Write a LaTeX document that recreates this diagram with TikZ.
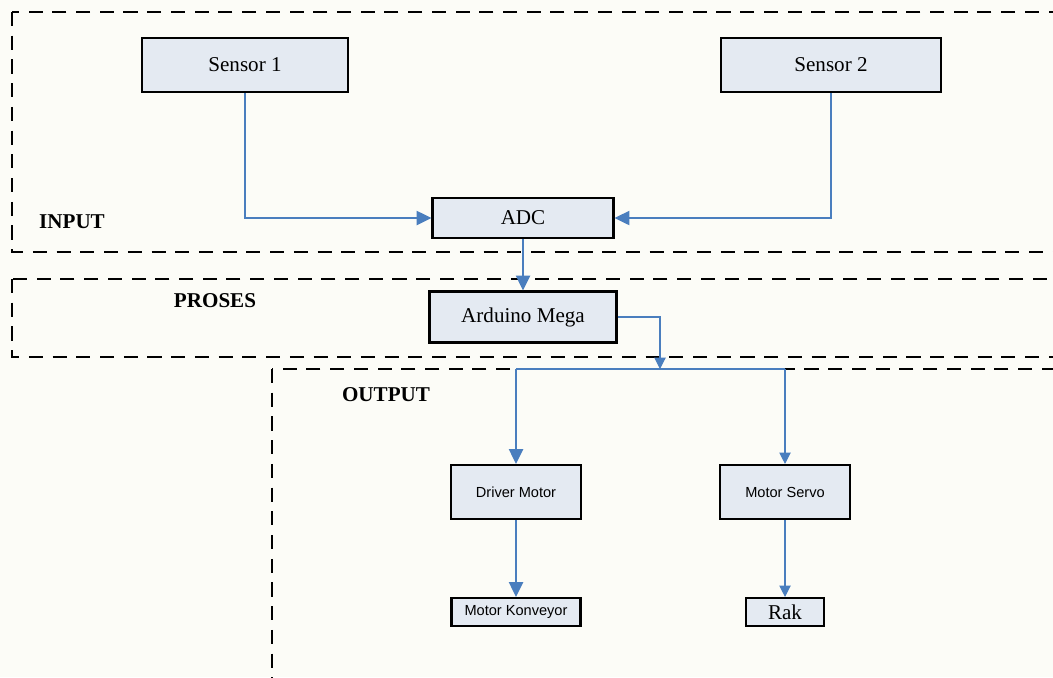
\documentclass[tikz,border=0pt]{standalone}
\usepackage{fontspec}
\setmainfont{Liberation Serif}
\newfontfamily\arial{Liberation Sans}
\usetikzlibrary{arrows.meta}
\definecolor{blok}{RGB}{228,234,242}
\definecolor{garis}{RGB}{74,126,190}
\definecolor{latar}{RGB}{252,252,247}
\tikzset{ bk/.style = { rectangle % block
, draw
, line width = 1.2pt
, fill = blok
, inner sep = 0pt
, font = \fontsize{12}{14}\selectfont
}
, sk/.style = { bk % small sans block
, font = \arial\fontsize{8.3}{10}\selectfont
}
, tb/.style = { draw = garis % thick connector
, line width = 1.3pt
, -{Triangle[length=8.5pt,width=8pt]}
}
, tp/.style = { draw = garis % thin connector
, line width = 0.6pt
, -{Triangle[length=6.5pt,width=6.5pt]}
}
, zona/.style = { dash pattern = on 8pt off 5.5pt % zone border
, line width = 1.1pt
}
, lbl/.style = { font = \bfseries\fontsize{12}{14}\selectfont % zone label
}
}

\begin{document}
\begin{tikzpicture}[x=0.02cm, y=-0.02cm]
                    \useasboundingbox (0,0) rectangle (1053,677);
                    \clip (0,0) rectangle (1053,677);
                    \fill[latar] (0,0) rectangle (1053,677);

                    % zones
                    \draw[zona] ( 12, 12) rectangle (1080,252);
                    \draw[zona] ( 12,279) rectangle (1080,357);
                    \draw[zona] (272,369) rectangle (1080,700);
                    \node[lbl] (input)  at ( 72,222) {INPUT};
                    \node[lbl] (proses) at (215,301) {PROSES};
                    \node[lbl] (output) at (386,395) {OUTPUT};

                    % blocks
                    \node[bk, minimum width=4.12cm, minimum height=1.08cm] (sensor1)  at (245, 65) {Sensor 1};
                    \node[bk, minimum width=4.40cm, minimum height=1.08cm] (sensor2)  at (831, 65) {Sensor 2};
                    \node[bk, minimum width=3.62cm, minimum height=0.80cm] (adc)      at (523,218) {ADC};
                    \node[bk, minimum width=3.74cm, minimum height=1.02cm] (arduino)  at (523,317) {Arduino Mega};
                    \node[sk, minimum width=2.60cm, minimum height=1.08cm] (driver)   at (516,492) {Driver Motor};
                    \node[sk, minimum width=2.60cm, minimum height=1.08cm] (servo)    at (785,492) {Motor Servo};
                    \node[sk, minimum width=2.58cm, minimum height=0.56cm] (konveyor) at (516,612) {Motor Konveyor};
                    \node[bk, minimum width=1.56cm, minimum height=0.56cm] (rak)      at (785,612) {Rak};

                    % connectors
                    \coordinate (cabang) at (660,369);
                    \coordinate (kiri)   at (516,369);
                    \coordinate (kanan)  at (785,369);
                    \draw[tb] (sensor1) |- (adc);
                    \draw[tb] (sensor2) |- (adc);
                    \draw[tb] (adc) -- (arduino);
                    \draw[tp] (arduino.east) -| (cabang);
                    \draw[tp, -] (kiri) -- (kanan);
                    \draw[tb] (kiri) -- (driver);
                    \draw[tp] (kanan) -- (servo);
                    \draw[tb] (driver) -- (konveyor);
                    \draw[tp] (servo) -- (rak);
                \end{tikzpicture}
\end{document}
